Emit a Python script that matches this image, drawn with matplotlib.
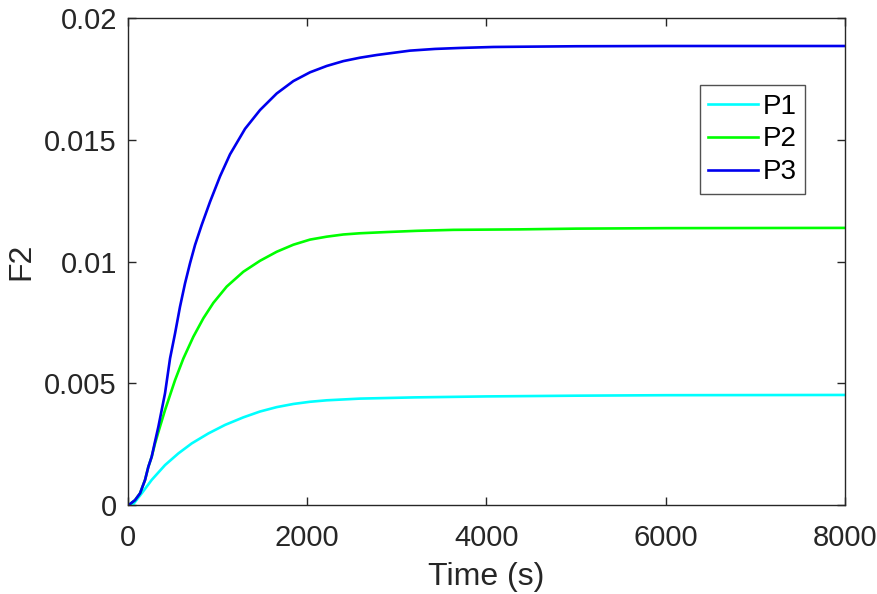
import matplotlib
matplotlib.use("Agg")
import matplotlib.pyplot as plt

plt.rcParams['font.family'] = ['Liberation Sans', 'DejaVu Sans']

# values
t_p1 = [0, 60, 153, 264, 413, 562, 711, 897, 1083, 1287, 1473, 1659, 1845, 2031,
        2217, 2589, 3200, 4000, 5000, 6000, 8000]
f_p1 = [0, 0.00004, 0.00048, 0.00103, 0.00164, 0.00212, 0.00253, 0.00294, 0.00329,
        0.00360, 0.00384, 0.00402, 0.00415, 0.00424, 0.00430, 0.00437, 0.00442,
        0.00446, 0.00449, 0.00451, 0.00452]

t_p2 = [0, 22, 78, 134, 190, 227, 264, 301, 339, 413, 525, 618, 729, 841, 952,
        1101, 1287, 1473, 1659, 1845, 2031, 2217, 2403, 2589, 2887, 3222, 3631,
        4375, 5000, 6000, 8000]
f_p2 = [0, 0.00004, 0.00020, 0.00048, 0.00103, 0.00157, 0.00198, 0.00252, 0.00300,
        0.00390, 0.00513, 0.00602, 0.00691, 0.00767, 0.00830, 0.00897, 0.00958,
        0.01003, 0.01040, 0.01069, 0.01090, 0.01102, 0.01111, 0.01116, 0.01121,
        0.01126, 0.01130, 0.01132, 0.01135, 0.01137, 0.01138]

t_p3 = [0, 22, 78, 134, 190, 227, 264, 301, 339, 413, 469, 525, 580, 636, 692, 748,
        822, 915, 1027, 1138, 1306, 1473, 1659, 1845, 2031, 2217, 2403, 2589, 2775,
        2961, 3147, 3426, 3705, 4077, 4375, 5000, 6000, 8000]
f_p3 = [0, 0.00004, 0.00020, 0.00048, 0.00103, 0.00157, 0.00198, 0.00260, 0.00322,
        0.00459, 0.00602, 0.00705, 0.00814, 0.00910, 0.00993, 0.01068, 0.01150,
        0.01245, 0.01350, 0.01440, 0.01545, 0.01622, 0.01690, 0.01741, 0.01777,
        0.01803, 0.01823, 0.01837, 0.01848, 0.01857, 0.01866, 0.01873, 0.01877,
        0.01881, 0.01882, 0.01884, 0.01885, 0.01885]

x_ticks = [0, 2000, 4000, 6000, 8000]
y_ticks = [0, 0.005, 0.01, 0.015, 0.02]
y_tick_labels = ['0', '0.005', '0.01', '0.015', '0.02']

fig = plt.figure(figsize=(8.78, 5.94), dpi=100)
ax = fig.add_axes([0.1458, 0.1498, 0.8166, 0.8199])

ax.plot(t_p1, f_p1, color='#00ffff', lw=1.9, label='P1')
ax.plot(t_p2, f_p2, color='#00ff00', lw=1.9, label='P2')
ax.plot(t_p3, f_p3, color='#0000ee', lw=1.9, label='P3')

ax.set_xlim(0, 8000)
ax.set_ylim(0, 0.02)
ax.set_xticks(x_ticks)
ax.set_xticklabels([str(v) for v in x_ticks])
ax.set_yticks(y_ticks)
ax.set_yticklabels(y_tick_labels)
ax.tick_params(direction='in', length=6, width=1, top=True, right=True,
               labelsize=21, colors='#262626', pad=8)
ax.tick_params(axis='x', pad=14)
for s in ax.spines.values():
    s.set_color('#262626')
    s.set_linewidth(1)

ax.set_xlabel('Time (s)', fontsize=23, color='#262626', labelpad=7)
ax.set_ylabel('F2', fontsize=23, color='#262626', labelpad=6)

leg = ax.legend(loc='upper right', bbox_to_anchor=(0.944, 0.862), fontsize=20,
                frameon=True, fancybox=False, handlelength=1.8, handletextpad=0.15,
                borderpad=0.3, labelspacing=0.25, borderaxespad=0)
leg.get_frame().set_edgecolor('#262626')
leg.get_frame().set_linewidth(1)

fig.savefig('out.png', dpi=100)
